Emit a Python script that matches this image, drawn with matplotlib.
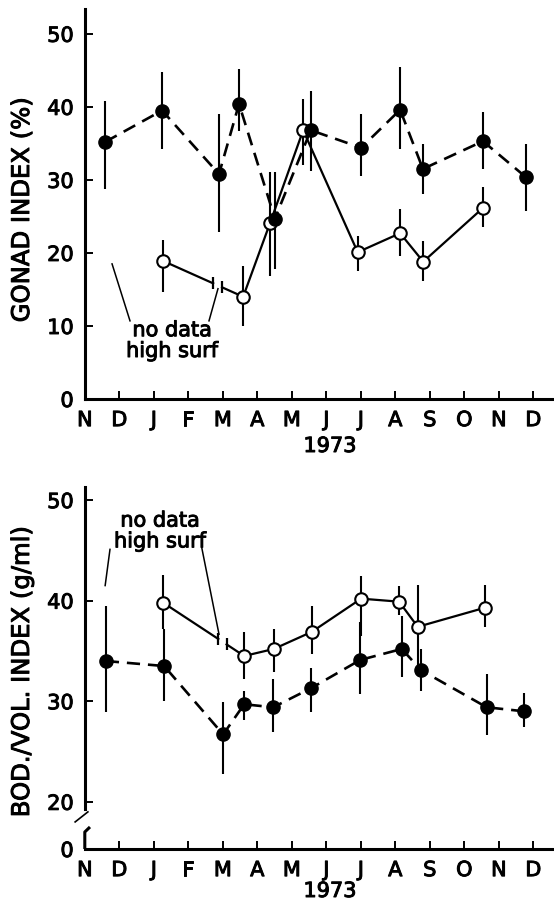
import numpy as np
import matplotlib
matplotlib.use("Agg")
import matplotlib.pyplot as plt
import matplotlib.patheffects as pe

plt.rcParams['font.family'] = ['DejaVu Sans']

# ---------------- data ----------------
months = ["N", "D", "J", "F", "M", "A", "M", "J", "J", "A", "S", "O", "N", "D"]
year_label = "1973"

# Top panel: gonad index (%)
top_filled_x = [0.59, 2.24, 3.89, 4.47, 5.51, 6.55, 8.01, 9.14, 9.80, 11.54, 12.78]
top_filled_y = [35.2, 39.5, 30.8, 40.4, 24.7, 36.8, 34.4, 39.6, 31.5, 35.3, 30.4]
top_filled_lo = [28.8, 34.2, 22.9, 36.7, 17.8, 31.2, 30.5, 34.2, 28.1, 31.5, 25.8]
top_filled_hi = [40.8, 44.8, 39.0, 45.2, 31.1, 42.2, 39.0, 45.5, 34.9, 39.3, 34.9]

top_open_x = [2.27, 4.59, 5.37, 6.33, 7.91, 9.14, 9.81, 11.55]
top_open_y = [18.9, 14.0, 24.1, 36.8, 20.1, 22.7, 18.8, 26.2]
top_open_lo = [14.7, 10.0, 16.8, 32.0, 17.5, 19.6, 16.2, 23.6]
top_open_hi = [21.8, 18.2, 31.1, 41.1, 22.3, 26.0, 21.6, 29.0]
top_gap = [3.72, 3.98]

# Bottom panel: body/volume index (g/ml)
bot_filled_x = [0.61, 2.30, 4.01, 4.62, 5.46, 6.56, 7.98, 9.19, 9.74, 11.65, 12.73]
bot_filled_y = [34.0, 33.5, 26.7, 29.7, 29.4, 31.3, 34.1, 35.2, 33.1, 29.4, 29.0]
bot_filled_lo = [28.9, 30.0, 22.8, 28.1, 26.9, 28.9, 30.7, 32.4, 31.0, 26.6, 27.4]
bot_filled_hi = [39.5, 37.2, 29.9, 31.0, 32.2, 33.3, 37.9, 38.5, 35.2, 32.7, 30.8]

bot_open_x = [2.27, 4.62, 5.48, 6.58, 8.01, 9.11, 9.65, 11.60]
bot_open_y = [39.8, 34.5, 35.2, 36.9, 40.2, 39.9, 37.4, 39.3]
bot_open_lo = [37.2, 32.2, 32.9, 34.7, 36.5, 38.6, 32.5, 37.4]
bot_open_hi = [42.6, 36.9, 37.2, 39.5, 42.5, 41.5, 41.6, 41.6]
bot_gap = [3.87, 4.11]

note_text = "no data\nhigh surf"

# ---------------- figure ----------------
W, H = 554, 903
fig = plt.figure(figsize=(W / 100, H / 100), dpi=100)
x0 = 84.8
ax1 = fig.add_axes([x0 / W, 1 - 400 / H, (W - x0) / W, 390 / H])
ax2 = fig.add_axes([x0 / W, 1 - 850 / H, (W - x0) / W, 362 / H])

XMAX = (W - x0) / 34.5
SPW = 2.2
FS = 15
BOLDEN = [pe.withStroke(linewidth=0.7, foreground="k")]


def style_axes(ax, ylim, yticks, yticklabels):
    ax.set_xlim(0, XMAX)
    ax.set_ylim(*ylim)
    for s in ("top", "right"):
        ax.spines[s].set_visible(False)
    for s in ("left", "bottom"):
        ax.spines[s].set_linewidth(SPW)
    ax.set_xticks(range(len(months)))
    ax.set_xticklabels(months, fontsize=FS)
    ax.set_yticks(yticks)
    ax.set_yticklabels(yticklabels, fontsize=FS)
    ax.tick_params(axis="both", direction="in", length=6, width=1.4)
    ax.tick_params(axis="x", pad=8)
    ax.tick_params(axis="y", pad=8)
    for t in ax.get_xticklabels() + ax.get_yticklabels():
        t.set_path_effects(BOLDEN)


def draw_series(ax, x, y, lo, hi, filled, gap=None):
    x = np.asarray(x); y = np.asarray(y)
    ax.vlines(x, lo, hi, color="k", lw=1.5, zorder=2)
    if filled:
        ax.plot(x, y, color="k", lw=1.9, dashes=(5.0, 3.0), zorder=3)
        ax.plot(x, y, ls="none", marker="o", ms=9.5, mfc="k", mec="k", zorder=5)
    else:
        if gap is None:
            ax.plot(x, y, "k-", lw=1.6, zorder=3)
        else:
            gy = np.interp(gap, x[:2], y[:2])
            ax.plot([x[0], gap[0]], [y[0], gy[0]], "k-", lw=1.6, zorder=3)
            ax.plot(np.r_[gap[1], x[1:]], np.r_[gy[1], y[1:]], "k-", lw=1.6, zorder=3)
            ax.plot(gap, gy, ls="none", marker="|", ms=9, mew=1.6, color="k", zorder=3)
        ax.plot(x, y, ls="none", marker="o", ms=9, mfc="white", mec="k", mew=1.5, zorder=4)


# Top panel
top_ylim = (0, 53.4)
style_axes(ax1, top_ylim, [0, 10, 20, 30, 40, 50], ["0", "10", "20", "30", "40", "50"])
draw_series(ax1, top_filled_x, top_filled_y, top_filled_lo, top_filled_hi, True)
draw_series(ax1, top_open_x, top_open_y, top_open_lo, top_open_hi, False, gap=top_gap)
ax1.text(2.53, 5.75, note_text, fontsize=FS, ha="center", va="baseline",
         multialignment="center", linespacing=1.05, path_effects=BOLDEN)
ax1.plot([0.79, 1.31], [18.5, 10.7], "k-", lw=1.1)
ax1.plot([3.86, 3.60], [15.1, 10.7], "k-", lw=1.1)

# Bottom panel (broken axis)
y0b = 15.31
bot_ylim = (y0b, 51.3)
style_axes(ax2, bot_ylim, [y0b, 20, 30, 40, 50], ["0", "20", "30", "40", "50"])
ax2.spines["left"].set_bounds(19.3, bot_ylim[1])
ax2.plot([0.15, 0.0, 0.0], [17.5, 17.0, y0b], color="k", lw=SPW, clip_on=False,
         solid_capstyle="butt", solid_joinstyle="round")
ax2.plot([-0.28, 0.09], [18.0, 19.0], color="k", lw=1.2, clip_on=False)
draw_series(ax2, bot_filled_x, bot_filled_y, bot_filled_lo, bot_filled_hi, True)
draw_series(ax2, bot_open_x, bot_open_y, bot_open_lo, bot_open_hi, False, gap=bot_gap)
ax2.text(2.18, 45.3, note_text, fontsize=FS, ha="center", va="baseline",
         multialignment="center", linespacing=1.05, path_effects=BOLDEN)
ax2.plot([0.73, 0.59], [45.1, 41.5], "k-", lw=1.1)
ax2.plot([3.39, 3.89], [45.27, 36.66], "k-", lw=1.1)

# Labels
fig.text(22 / W, 1 - 211 / H, "GONAD INDEX (%)", rotation=90, fontsize=17.5,
         ha="center", va="center", path_effects=BOLDEN)
fig.text(22 / W, 1 - 673 / H, "BOD./VOL. INDEX (g/ml)", rotation=90, fontsize=17.5,
         ha="center", va="center", path_effects=BOLDEN)
fig.text(330 / W, 1 - 447 / H, year_label, fontsize=FS, ha="center", va="center",
         path_effects=BOLDEN)
fig.text(330 / W, 1 - 892 / H, year_label, fontsize=FS, ha="center", va="center",
         path_effects=BOLDEN)

fig.savefig("out.png", dpi=100)
